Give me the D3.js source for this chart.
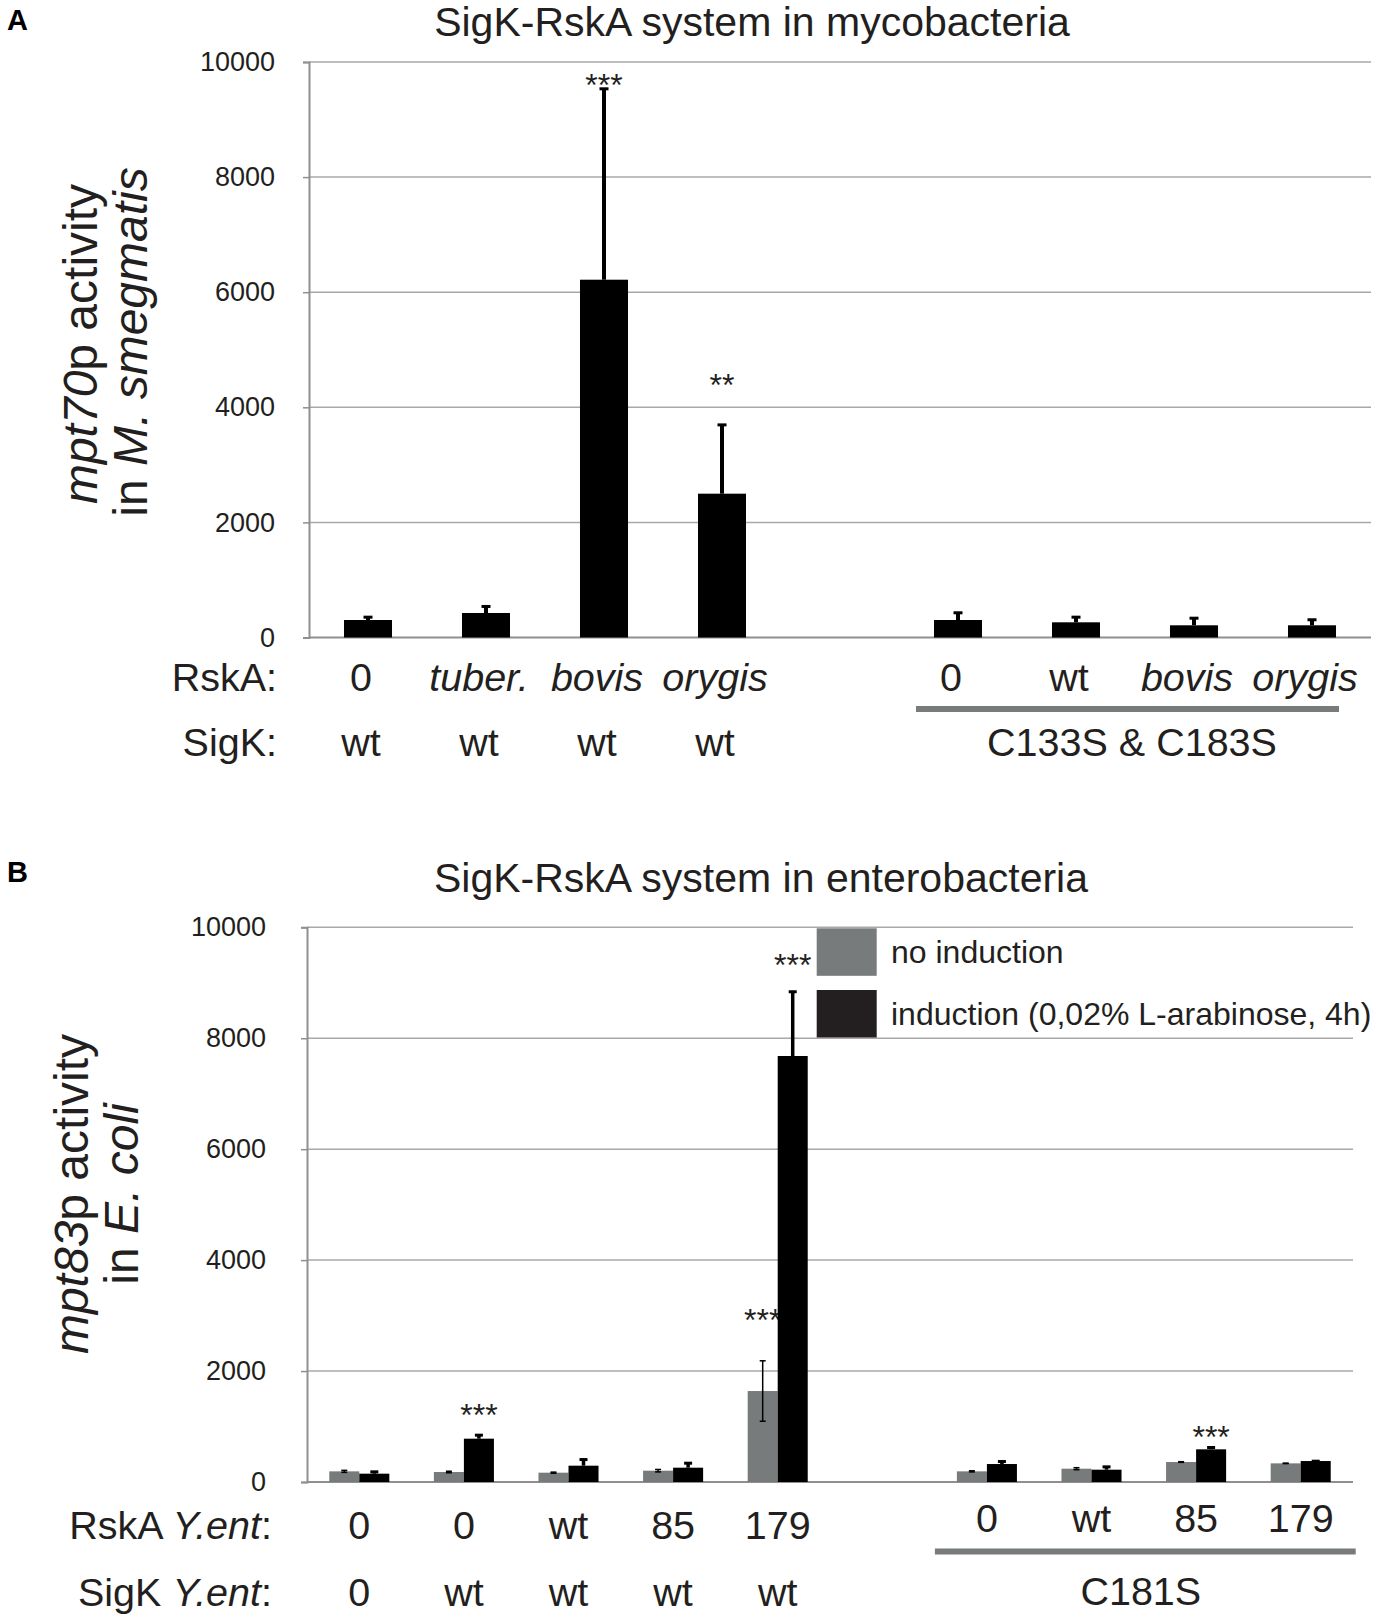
<!DOCTYPE html>
<html>
<head>
<meta charset="utf-8">
<script src="https://cdn.jsdelivr.net/npm/d3@7"></script>
<style>
  html, body { margin: 0; padding: 0; background: #fff; }
  svg { display: block; }
</style>
</head>
<body>
<div id="chart"></div>
<script>
// ---------------- DATA ----------------
const yTicks = [0, 2000, 4000, 6000, 8000, 10000];

// Panel A: SigK-RskA system in mycobacteria
const aSlots = ["A1", "A2", "A3", "A4", "gapA", "A6", "A7", "A8", "A9"];
const aRskALabels = ["0", "tuber.", "bovis", "orygis", "", "0", "wt", "bovis", "orygis"];
const aRskAItalic = [false, true, true, true, false, false, false, true, true];
const aSigKLabels = ["wt", "wt", "wt", "wt", "", "", "", "", ""];
const aGroupLabel = "C133S & C183S";
const aValues = [304, 426, 6217, 2499, null, 304, 264, 212, 212];
const aErrors = [58, 122, 3326, 1204, null, 134, 98, 132, 105];
const aStarText = ["", "", "***", "**", "", "", "", "", ""];
const aStarValue = [null, null, 9722, 4513, null, null, null, null, null];

// Panel B: SigK-RskA system in enterobacteria
const bSlots = ["B1", "B2", "B3", "B4", "B5", "gapB", "B7", "B8", "B9", "B10"];
const bRskALabels = ["0", "0", "wt", "85", "179", "", "0", "wt", "85", "179"];
const bSigKLabels = ["0", "wt", "wt", "wt", "wt", "", "", "", "", ""];
const bGroupLabel = "C181S";
const seriesNames = ["no induction", "induction (0,02% L-arabinose, 4h)"];
const bNoInduction = [192, 180, 168, 204, 1640, null, 192, 240, 360, 336];
const bNoInductionErr = [18, 14, 10, 22, 545, null, 10, 18, 6, 4];
const bInduction = [150, 781, 294, 258, 7680, null, 324, 222, 589, 378];
const bInductionErr = [42, 72, 120, 90, 1167, null, 54, 60, 42, 6];
const bStarNoInd = ["", "", "", "", "***", "", "", "", "", ""];
const bStarNoIndValue = [null, null, null, null, 3045, null, null, null, null, null];
const bStarInd = ["", "***", "", "", "***", "", "", "", "***", ""];
const bStarIndValue = [null, 1333, null, null, 9441, null, null, null, 937, null];

// ---------------- STYLE ----------------
const FONT = "'Liberation Sans', Arial, Helvetica, sans-serif";
const TXT = "#231f20";
const GRAY = "#777b7b";
const BLACK = "#000000";
const LEG_BLACK = "#231f20";
const GRID = "#a8a8a8";
const AXIS = "#8f8f8f";
const CAT_FS = 39.5;

const W = 1384, H = 1619;
const svg = d3.select("#chart").append("svg")
  .attr("width", W).attr("height", H)
  .attr("font-family", FONT);

function drawYAxis(g, y, x0, x1, pad) {
  g.append("g").selectAll("line.grid").data(yTicks.filter(t => t > 0)).join("line")
    .attr("x1", x0).attr("x2", x1)
    .attr("y1", d => y(d)).attr("y2", d => y(d))
    .attr("stroke", GRID).attr("stroke-width", 1.5);
  const ax = g.append("g").attr("transform", `translate(${x0},0)`)
    .call(d3.axisLeft(y).tickValues(yTicks).tickFormat(d3.format("d")).tickSize(6).tickPadding(pad));
  ax.select(".domain").attr("stroke", AXIS).attr("stroke-width", 2);
  ax.selectAll(".tick line").attr("stroke", AXIS).attr("stroke-width", 1.5);
  ax.selectAll(".tick text").attr("font-size", 27).attr("fill", TXT).attr("font-family", FONT);
  g.append("line").attr("x1", x0).attr("x2", x1)
    .attr("y1", y(0)).attr("y2", y(0))
    .attr("stroke", AXIS).attr("stroke-width", 2);
}

function errorUp(g, cx, yv, ytop, stem, capW) {
  g.append("line").attr("x1", cx).attr("x2", cx).attr("y1", yv).attr("y2", ytop)
    .attr("stroke", BLACK).attr("stroke-width", stem);
  g.append("rect").attr("x", cx - capW / 2).attr("y", ytop - 1).attr("width", capW).attr("height", 3)
    .attr("fill", BLACK);
}

function rotLabel(g, x, y, parts) {
  const t = g.append("text")
    .attr("transform", `translate(${x},${y}) rotate(-90)`)
    .attr("text-anchor", "middle").attr("font-size", 48).attr("fill", TXT);
  parts.forEach(p => t.append("tspan").attr("font-style", p[1] ? "italic" : "normal").text(p[0]));
}

// ---------------- PANEL A ----------------
{
  const g = svg.append("g");
  const x0 = 309, x1 = 1371, yTop = 62, yBase = 637.5;
  const x = d3.scaleBand().domain(aSlots).range([x0, x1]).paddingInner(0.593).paddingOuter(0.2965);
  const y = d3.scaleLinear().domain([0, 10000]).range([yBase, yTop]);

  g.append("text").attr("x", 7).attr("y", 30).attr("font-size", 29).attr("font-weight", "bold")
    .attr("fill", BLACK).text("A");
  g.append("text").attr("x", 752).attr("y", 36).attr("text-anchor", "middle")
    .attr("font-size", 41).attr("fill", TXT).text("SigK-RskA system in mycobacteria");

  drawYAxis(g, y, x0, x1, 28);

  aSlots.forEach((s, i) => {
    if (aValues[i] == null) return;
    const cx = x(s) + x.bandwidth() / 2;
    g.append("rect").attr("x", x(s)).attr("y", y(aValues[i]))
      .attr("width", x.bandwidth()).attr("height", y(0) - y(aValues[i])).attr("fill", BLACK);
    errorUp(g, cx, y(aValues[i]), y(aValues[i] + aErrors[i]), 4, 9);
    if (aStarText[i]) {
      g.append("text").attr("x", cx).attr("y", y(aStarValue[i]) + 18).attr("text-anchor", "middle")
        .attr("font-size", 32).attr("fill", TXT).text(aStarText[i]);
    }
  });

  const lab = g.append("g").attr("font-size", CAT_FS).attr("fill", TXT).attr("text-anchor", "middle");
  lab.append("text").attr("x", 277).attr("y", 691).attr("text-anchor", "end").text("RskA:");
  lab.append("text").attr("x", 277).attr("y", 756).attr("text-anchor", "end").text("SigK:");
  aSlots.forEach((s, i) => {
    const cx = x(s) + x.bandwidth() / 2 - 7;
    if (aRskALabels[i]) lab.append("text").attr("x", cx).attr("y", 691)
      .attr("font-style", aRskAItalic[i] ? "italic" : "normal").text(aRskALabels[i]);
    if (aSigKLabels[i]) lab.append("text").attr("x", cx).attr("y", 756).text(aSigKLabels[i]);
  });
  const first = x(aSlots[5]) + x.bandwidth() / 2, last = x(aSlots[8]) + x.bandwidth() / 2;
  g.append("line").attr("x1", first - 42).attr("x2", last + 27).attr("y1", 709).attr("y2", 709)
    .attr("stroke", GRAY).attr("stroke-width", 6);
  lab.append("text").attr("x", (first + last) / 2 - 3).attr("y", 756).text(aGroupLabel);

  const yl = g.append("g");
  rotLabel(yl, 97, 344, [["mpt70", true], ["p activity", false]]);
  rotLabel(yl, 147, 342, [["in ", false], ["M. smegmatis", true]]);
}

// ---------------- PANEL B ----------------
{
  const g = svg.append("g");
  const x0 = 307, x1 = 1353, yTop = 927.3, yBase = 1482;
  const x = d3.scaleBand().domain(bSlots).range([x0, x1]).paddingInner(0.426).paddingOuter(0.213);
  const xs = d3.scaleBand().domain([0, 1]).range([0, x.bandwidth()]);
  const y = d3.scaleLinear().domain([0, 10000]).range([yBase, yTop]);

  g.append("text").attr("x", 7).attr("y", 882).attr("font-size", 29).attr("font-weight", "bold")
    .attr("fill", BLACK).text("B");
  g.append("text").attr("x", 761).attr("y", 892).attr("text-anchor", "middle")
    .attr("font-size", 41).attr("fill", TXT).text("SigK-RskA system in enterobacteria");

  drawYAxis(g, y, x0, x1, 35);

  const series = [
    { vals: bNoInduction, errs: bNoInductionErr, color: GRAY, stars: bStarNoInd, starV: bStarNoIndValue },
    { vals: bInduction, errs: bInductionErr, color: BLACK, stars: bStarInd, starV: bStarIndValue }
  ];
  bSlots.forEach((s, i) => {
    series.forEach((ser, k) => {
      const v = ser.vals[i];
      if (v == null) return;
      const bx = x(s) + xs(k), bw = xs.bandwidth(), cx = bx + bw / 2;
      g.append("rect").attr("x", bx).attr("y", y(v)).attr("width", bw)
        .attr("height", y(0) - y(v)).attr("fill", ser.color);
      const e = ser.errs[i];
      if (k === 0) {
        g.append("line").attr("x1", cx).attr("x2", cx).attr("y1", y(v - e)).attr("y2", y(v + e))
          .attr("stroke", BLACK).attr("stroke-width", 1.5);
        [v - e, v + e].forEach(ev => g.append("line").attr("x1", cx - 3).attr("x2", cx + 3)
          .attr("y1", y(ev)).attr("y2", y(ev)).attr("stroke", BLACK).attr("stroke-width", 1.5));
      } else {
        errorUp(g, cx, y(v), y(v + e), 3.5, 8);
      }
      if (ser.stars[i]) {
        g.append("text").attr("x", cx).attr("y", y(ser.starV[i]) + 18).attr("text-anchor", "middle")
          .attr("font-size", 32).attr("fill", TXT).text(ser.stars[i]);
      }
    });
  });

  const leg = g.append("g");
  const legColors = [GRAY, LEG_BLACK];
  const legY = [928.3, 990];
  seriesNames.forEach((n, i) => {
    leg.append("rect").attr("x", 816.7).attr("y", legY[i]).attr("width", 60).attr("height", 47.5)
      .attr("fill", legColors[i]);
    leg.append("text").attr("x", 891).attr("y", legY[i] + 35).attr("font-size", 32)
      .attr("fill", TXT).text(n);
  });

  const lab = g.append("g").attr("font-size", CAT_FS).attr("fill", TXT).attr("text-anchor", "middle");
  const rowR = lab.append("text").attr("x", 272).attr("y", 1539).attr("text-anchor", "end");
  rowR.append("tspan").text("RskA ");
  rowR.append("tspan").attr("font-style", "italic").text("Y.ent");
  rowR.append("tspan").text(":");
  const rowS = lab.append("text").attr("x", 272).attr("y", 1606).attr("text-anchor", "end");
  rowS.append("tspan").text("SigK ");
  rowS.append("tspan").attr("font-style", "italic").text("Y.ent");
  rowS.append("tspan").text(":");
  bSlots.forEach((s, i) => {
    const cx = x(s) + x.bandwidth() / 2;
    if (bRskALabels[i]) lab.append("text").attr("x", cx).attr("y", i < 5 ? 1539 : 1532).text(bRskALabels[i]);
    if (bSigKLabels[i]) lab.append("text").attr("x", cx).attr("y", 1606).text(bSigKLabels[i]);
  });
  const first = x(bSlots[6]) + x.bandwidth() / 2, last = x(bSlots[9]) + x.bandwidth() / 2;
  g.append("line").attr("x1", first - 52).attr("x2", last + 55).attr("y1", 1551.5).attr("y2", 1551.5)
    .attr("stroke", GRAY).attr("stroke-width", 6);
  lab.append("text").attr("x", (first + last) / 2 - 3).attr("y", 1605).text(bGroupLabel);

  const yl = g.append("g");
  rotLabel(yl, 88, 1194, [["mpt83", true], ["p activity", false]]);
  rotLabel(yl, 138, 1194, [["in ", false], ["E. coli", true]]);
}
</script>
</body>
</html>
